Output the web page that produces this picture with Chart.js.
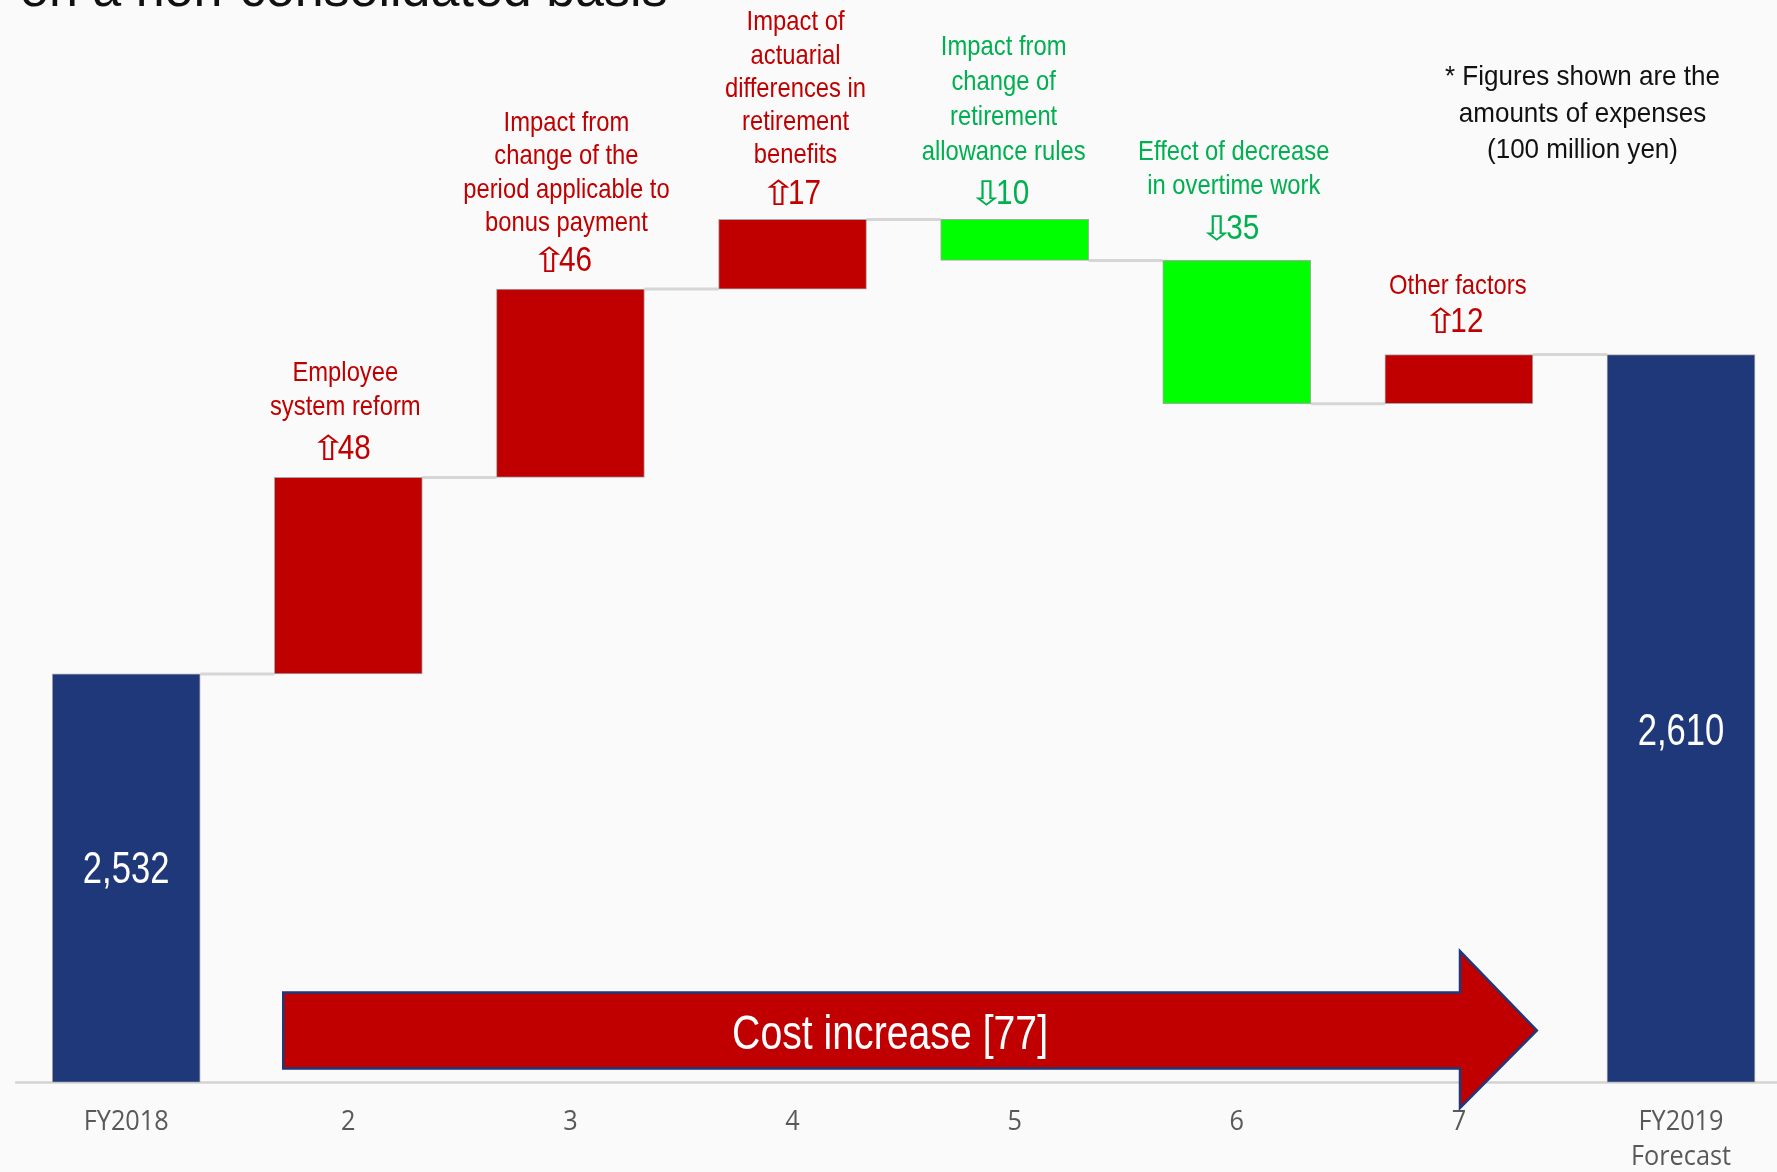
<!DOCTYPE html>
<html>
<head>
<meta charset="utf-8">
<script src="https://cdn.jsdelivr.net/npm/chart.js@4.4.1/dist/chart.umd.min.js"></script>
<style>
html,body{margin:0;padding:0;background:#FAFAFA;}
#wrap{width:1777px;height:1172px;position:relative;overflow:hidden;}
canvas{display:block;}
</style>
</head>
<body>
<div id="wrap"><canvas id="c" width="1777" height="1172"></canvas></div>
<script>
// ---------------- data ----------------
const categories = ['FY2018', '2', '3', '4', '5', '6', '7', ['FY2019', 'Forecast']];
const startValue = 2532;
const changes = [48, 46, 17, -10, -35, 12];
const endValue = 2610;
const totalLabels = ['2,532', '2,610'];
const changeNames = [
  ['Employee', 'system reform'],
  ['Impact from', 'change of the', 'period applicable to', 'bonus payment'],
  ['Impact of', 'actuarial', 'differences in', 'retirement', 'benefits'],
  ['Impact from', 'change of', 'retirement', 'allowance rules'],
  ['Effect of decrease', 'in overtime work'],
  ['Other factors']
];
const changeValueLabels = ['48', '46', '17', '10', '35', '12'];
const arrowText = 'Cost increase [77]';
const titleText = 'on a non-consolidated basis';
const noteLines = ['* Figures shown are the', 'amounts of expenses', '(100 million yen)'];
const yMin = 2432.2, yMax = 2696.6;

// ---------------- styles ----------------
const NAVY = '#1F3879', RED = '#C00000', GREEN = '#00FF00';
const RED_TXT = '#C00000', GREEN_TXT = '#00B050';
const LABEL_FONT = '28px "Liberation Sans", Arial, sans-serif';
const NUM_FONT = '35px "Liberation Sans", Arial, sans-serif';
const ARROW_FONT = '34px "DejaVu Sans", sans-serif';
const NARROW = 0.85;
const numGap = [18.4, 18, 15.3, 15.7, 21.7, 23];
const textGap = [44.3, 40, 40.7, 43.3, 45, 37.7];
const lineGap = [33.3, 33.3, 33.3, 35.2, 33.3, 33.3];
const labelShift = [-3, -4, 3, -11, -3, -1];

// ---------------- build bars ----------------
const barData = [], barColors = [], levels = [];
let level = startValue;
barData.push({x: 0, y: startValue}); barColors.push(NAVY); levels.push(level);
changes.forEach((d, i) => {
  const from = level; level += d;
  barData.push({x: i + 1, y: [from, level]});
  barColors.push(d >= 0 ? RED : GREEN);
  levels.push(level);
});
barData.push({x: categories.length - 1, y: endValue}); barColors.push(NAVY);

function txt(ctx, s, x, y, font, color, sx, align) {
  ctx.save();
  ctx.font = font; ctx.fillStyle = color;
  ctx.textAlign = align || 'center'; ctx.textBaseline = 'alphabetic';
  ctx.translate(x, y); ctx.scale(sx, 1);
  ctx.fillText(s, 0, 0);
  ctx.restore();
}

const waterfall = {
  id: 'waterfall',
  beforeDatasetsDraw(chart) {
    const ctx = chart.ctx, xs = chart.scales.x, ys = chart.scales.y, area = chart.chartArea;
    const meta = chart.getDatasetMeta(0);
    ctx.save();
    ctx.strokeStyle = '#D3D3D3'; ctx.lineWidth = 2.5;
    ctx.beginPath();
    ctx.moveTo(xs.getPixelForValue(-0.5), area.bottom);
    ctx.lineTo(area.right, area.bottom);
    ctx.stroke();
    ctx.strokeStyle = '#D6D6D6'; ctx.lineWidth = 3;
    for (let i = 0; i < meta.data.length - 1; i++) {
      const a = meta.data[i], b = meta.data[i + 1];
      const y = ys.getPixelForValue(levels[i]);
      ctx.beginPath();
      ctx.moveTo(a.x + a.width / 2, y);
      ctx.lineTo(b.x - b.width / 2, y);
      ctx.stroke();
    }
    ctx.restore();
  },
  afterDatasetsDraw(chart) {
    const ctx = chart.ctx, xs = chart.scales.x, ys = chart.scales.y, area = chart.chartArea;
    const meta = chart.getDatasetMeta(0);
    // total labels
    const totals = [0, meta.data.length - 1];
    const fracs = [0.472, 0.515];
    totals.forEach((idx, k) => {
      const el = meta.data[idx];
      const yMid = el.y + (el.base - el.y) * fracs[k];
      txt(ctx, totalLabels[k], el.x, yMid + 16, '45px "Liberation Sans", Arial, sans-serif', '#FFFFFF', 0.77);
    });
    // change annotations
    changes.forEach((d, i) => {
      const el = meta.data[i + 1];
      const top = Math.min(el.y, el.base);
      const cx = el.x + labelShift[i];
      const col = d >= 0 ? RED_TXT : GREEN_TXT;
      const nb = top - numGap[i];
      const glyph = d >= 0 ? '\u21E7' : '\u21E9';
      ctx.save();
      ctx.font = NUM_FONT;
      const dw = ctx.measureText(changeValueLabels[i]).width * NARROW;
      ctx.restore();
      const gw = 17;
      const total = gw + 1 + dw;
      const x0 = cx - total / 2;
      txt(ctx, glyph, x0 + gw / 2, nb + 1, ARROW_FONT, col, 1.3, 'center');
      txt(ctx, changeValueLabels[i], x0 + gw + 1, nb, NUM_FONT, col, NARROW, 'left');
      const lines = changeNames[i];
      let yb = nb - textGap[i];
      for (let j = lines.length - 1; j >= 0; j--) {
        txt(ctx, lines[j], cx, yb, LABEL_FONT, col, NARROW);
        yb -= lineGap[i];
      }
    });
    // big arrow
    const L = xs.getPixelForValue(0.707), R = xs.getPixelForValue(6.005), T = xs.getPixelForValue(6.351);
    const bt = ys.getPixelForValue(2454.2), bb = ys.getPixelForValue(2435.6);
    const ht = ys.getPixelForValue(2464.3), hb = ys.getPixelForValue(2426.0);
    const ty = (bt + bb) / 2;
    ctx.save();
    ctx.beginPath();
    ctx.moveTo(L, bt); ctx.lineTo(R, bt); ctx.lineTo(R, ht); ctx.lineTo(T, ty);
    ctx.lineTo(R, hb); ctx.lineTo(R, bb); ctx.lineTo(L, bb); ctx.closePath();
    ctx.fillStyle = RED; ctx.fill();
    ctx.strokeStyle = NAVY; ctx.lineWidth = 2.5; ctx.lineJoin = 'miter'; ctx.stroke();
    ctx.restore();
    txt(ctx, arrowText, xs.getPixelForValue(3.439), ty + 18.5, '49px "Liberation Sans", Arial, sans-serif', '#FFFFFF', 0.8);
    // category tick labels
    ctx.save();
    ctx.font = '27px "Open Sans", sans-serif';
    const tsx = 85 / ctx.measureText('FY2018').width;
    ctx.restore();
    categories.forEach((c, i) => {
      const lines = Array.isArray(c) ? c : [c];
      const x = xs.getPixelForValue(i);
      lines.forEach((s, j) => {
        txt(ctx, s, x, area.bottom + 47.5 + j * 35, '27px "Open Sans", sans-serif', '#595959', tsx);
      });
    });
    // title (partially cut at top)
    txt(ctx, titleText, 20, 6, '52px "Liberation Sans", Arial, sans-serif', '#111111', 1, 'left');
    // note
    const noteY = [85, 121.5, 157.5];
    noteLines.forEach((s, j) => {
      txt(ctx, s, 1582.5, noteY[j], '28px "Liberation Sans", Arial, sans-serif', '#111111', 0.93);
    });
  }
};

new Chart(document.getElementById('c'), {
  type: 'bar',
  data: {
    datasets: [{
      data: barData,
      backgroundColor: barColors,
      borderColor: '#A8A8A8',
      borderWidth: 1,
      borderSkipped: false,
      barThickness: 148,
      base: yMin
    }]
  },
  options: {
    responsive: false,
    animation: false,
    devicePixelRatio: 1,
    layout: {padding: {left: 0, right: 0, top: 0, bottom: 89.5}},
    plugins: {legend: {display: false}, tooltip: {enabled: false}, title: {display: false}},
    scales: {
      x: {type: 'linear', min: -0.5682, max: 7.4322, display: false, offset: false},
      y: {min: yMin, max: yMax, display: false}
    }
  },
  plugins: [waterfall]
});
</script>
</body>
</html>
